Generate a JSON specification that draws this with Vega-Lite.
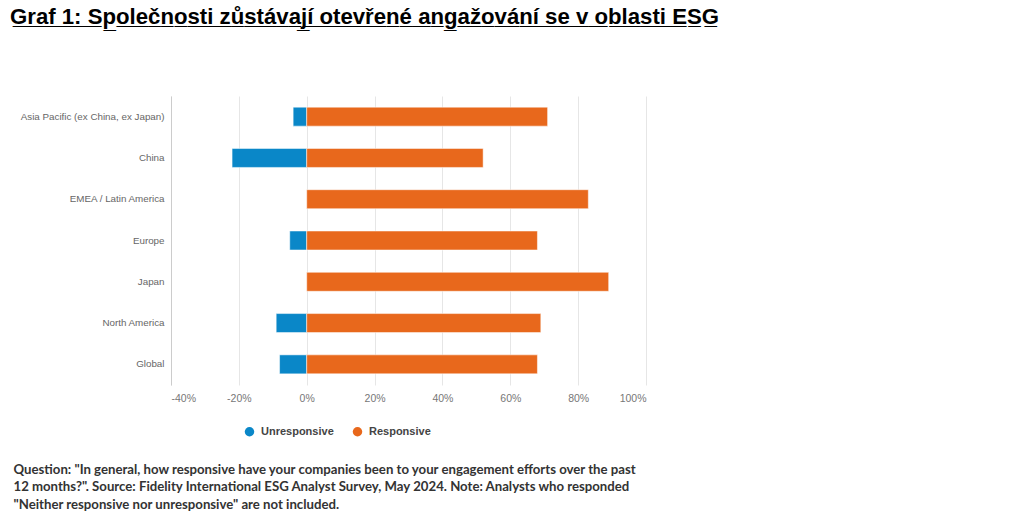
{
  "$schema": "https://vega.github.io/schema/vega-lite/v6.json",
  "autosize": "none",
  "width": 475,
  "height": 289,
  "padding": {"left": 171, "top": 96, "right": 378, "bottom": 145},
  "background": "white",
  "title": {
    "text": "G̲r̲a̲f̲ ̲1̲:̲ ̲S̲p̲o̲l̲e̲č̲n̲o̲s̲t̲i̲ ̲z̲ů̲s̲t̲á̲v̲a̲j̲í̲ ̲o̲t̲e̲v̲ř̲e̲n̲é̲ ̲a̲n̲g̲a̲ž̲o̲v̲á̲n̲í̲ ̲s̲e̲ ̲v̲ ̲o̲b̲l̲a̲s̲t̲i̲ ̲E̲S̲G̲",
    "anchor": "start",
    "frame": "group",
    "dx": -161,
    "offset": 50,
    "baseline": "alphabetic",
    "font": "Liberation Sans",
    "fontSize": 22.2,
    "fontWeight": "bold",
    "color": "#000000"
  },
  "data": {
    "values": [
      {"region": "Asia Pacific (ex China, ex Japan)", "type": "Unresponsive", "value": -4},
      {"region": "Asia Pacific (ex China, ex Japan)", "type": "Responsive", "value": 71},
      {"region": "China", "type": "Unresponsive", "value": -22},
      {"region": "China", "type": "Responsive", "value": 52},
      {"region": "EMEA / Latin America", "type": "Unresponsive", "value": 0},
      {"region": "EMEA / Latin America", "type": "Responsive", "value": 83},
      {"region": "Europe", "type": "Unresponsive", "value": -5},
      {"region": "Europe", "type": "Responsive", "value": 68},
      {"region": "Japan", "type": "Unresponsive", "value": 0},
      {"region": "Japan", "type": "Responsive", "value": 89},
      {"region": "North America", "type": "Unresponsive", "value": -9},
      {"region": "North America", "type": "Responsive", "value": 69},
      {"region": "Global", "type": "Unresponsive", "value": -8},
      {"region": "Global", "type": "Responsive", "value": 68}
    ]
  },
  "mark": {"type": "bar", "stroke": "#ffffff", "strokeOpacity": 0.5, "strokeWidth": 1},
  "encoding": {
    "y": {
      "field": "region",
      "type": "nominal",
      "sort": null,
      "scale": {"paddingInner": 0.54, "paddingOuter": 0.27},
      "axis": {
        "title": null,
        "ticks": false,
        "domain": true,
        "domainColor": "#cccccc",
        "labelFont": "Liberation Sans",
        "labelFontSize": 9.8,
        "labelColor": "#666666",
        "labelPadding": 7
      }
    },
    "x": {
      "field": "value",
      "type": "quantitative",
      "stack": null,
      "scale": {"domain": [-40, 100], "nice": false},
      "axis": {
        "values": [-40, -20, 0, 20, 40, 60, 80, 100],
        "labelExpr": "datum.value + '%'",
        "ticks": false,
        "domain": false,
        "grid": true,
        "gridColor": "#e6e6e6",
        "labelFont": "Liberation Sans",
        "labelFontSize": 10.5,
        "labelColor": "#777777",
        "labelPadding": 8,
        "title": [
          "Question: \"In general, how responsive have your companies been to your engagement efforts over the past",
          "12 months?\". Source: Fidelity International ESG Analyst Survey, May 2024. Note: Analysts who responded",
          "\"Neither responsive nor unresponsive\" are not included."
        ],
        "titleFont": "Lato",
        "titleFontSize": 13.2,
        "titleFontWeight": "bold",
        "titleColor": "#333333",
        "titleAlign": "left",
        "titleAnchor": "start",
        "titleBaseline": "alphabetic",
        "titleLineHeight": 17.5,
        "titleX": -158,
        "titleY": 88
      }
    },
    "color": {
      "field": "type",
      "type": "nominal",
      "scale": {"domain": ["Unresponsive", "Responsive"], "range": ["#0a87c8", "#e8681c"]},
      "legend": {
        "title": null,
        "orient": "none",
        "direction": "horizontal",
        "legendX": 73,
        "legendY": 330,
        "symbolType": "circle",
        "symbolSize": 90,
        "symbolStrokeWidth": 0,
        "labelFont": "Liberation Sans",
        "labelFontSize": 11,
        "labelFontWeight": "bold",
        "labelColor": "#444444",
        "columnPadding": 18,
        "labelOffset": 6
      }
    }
  },
  "config": {"view": {"stroke": null}}
}
